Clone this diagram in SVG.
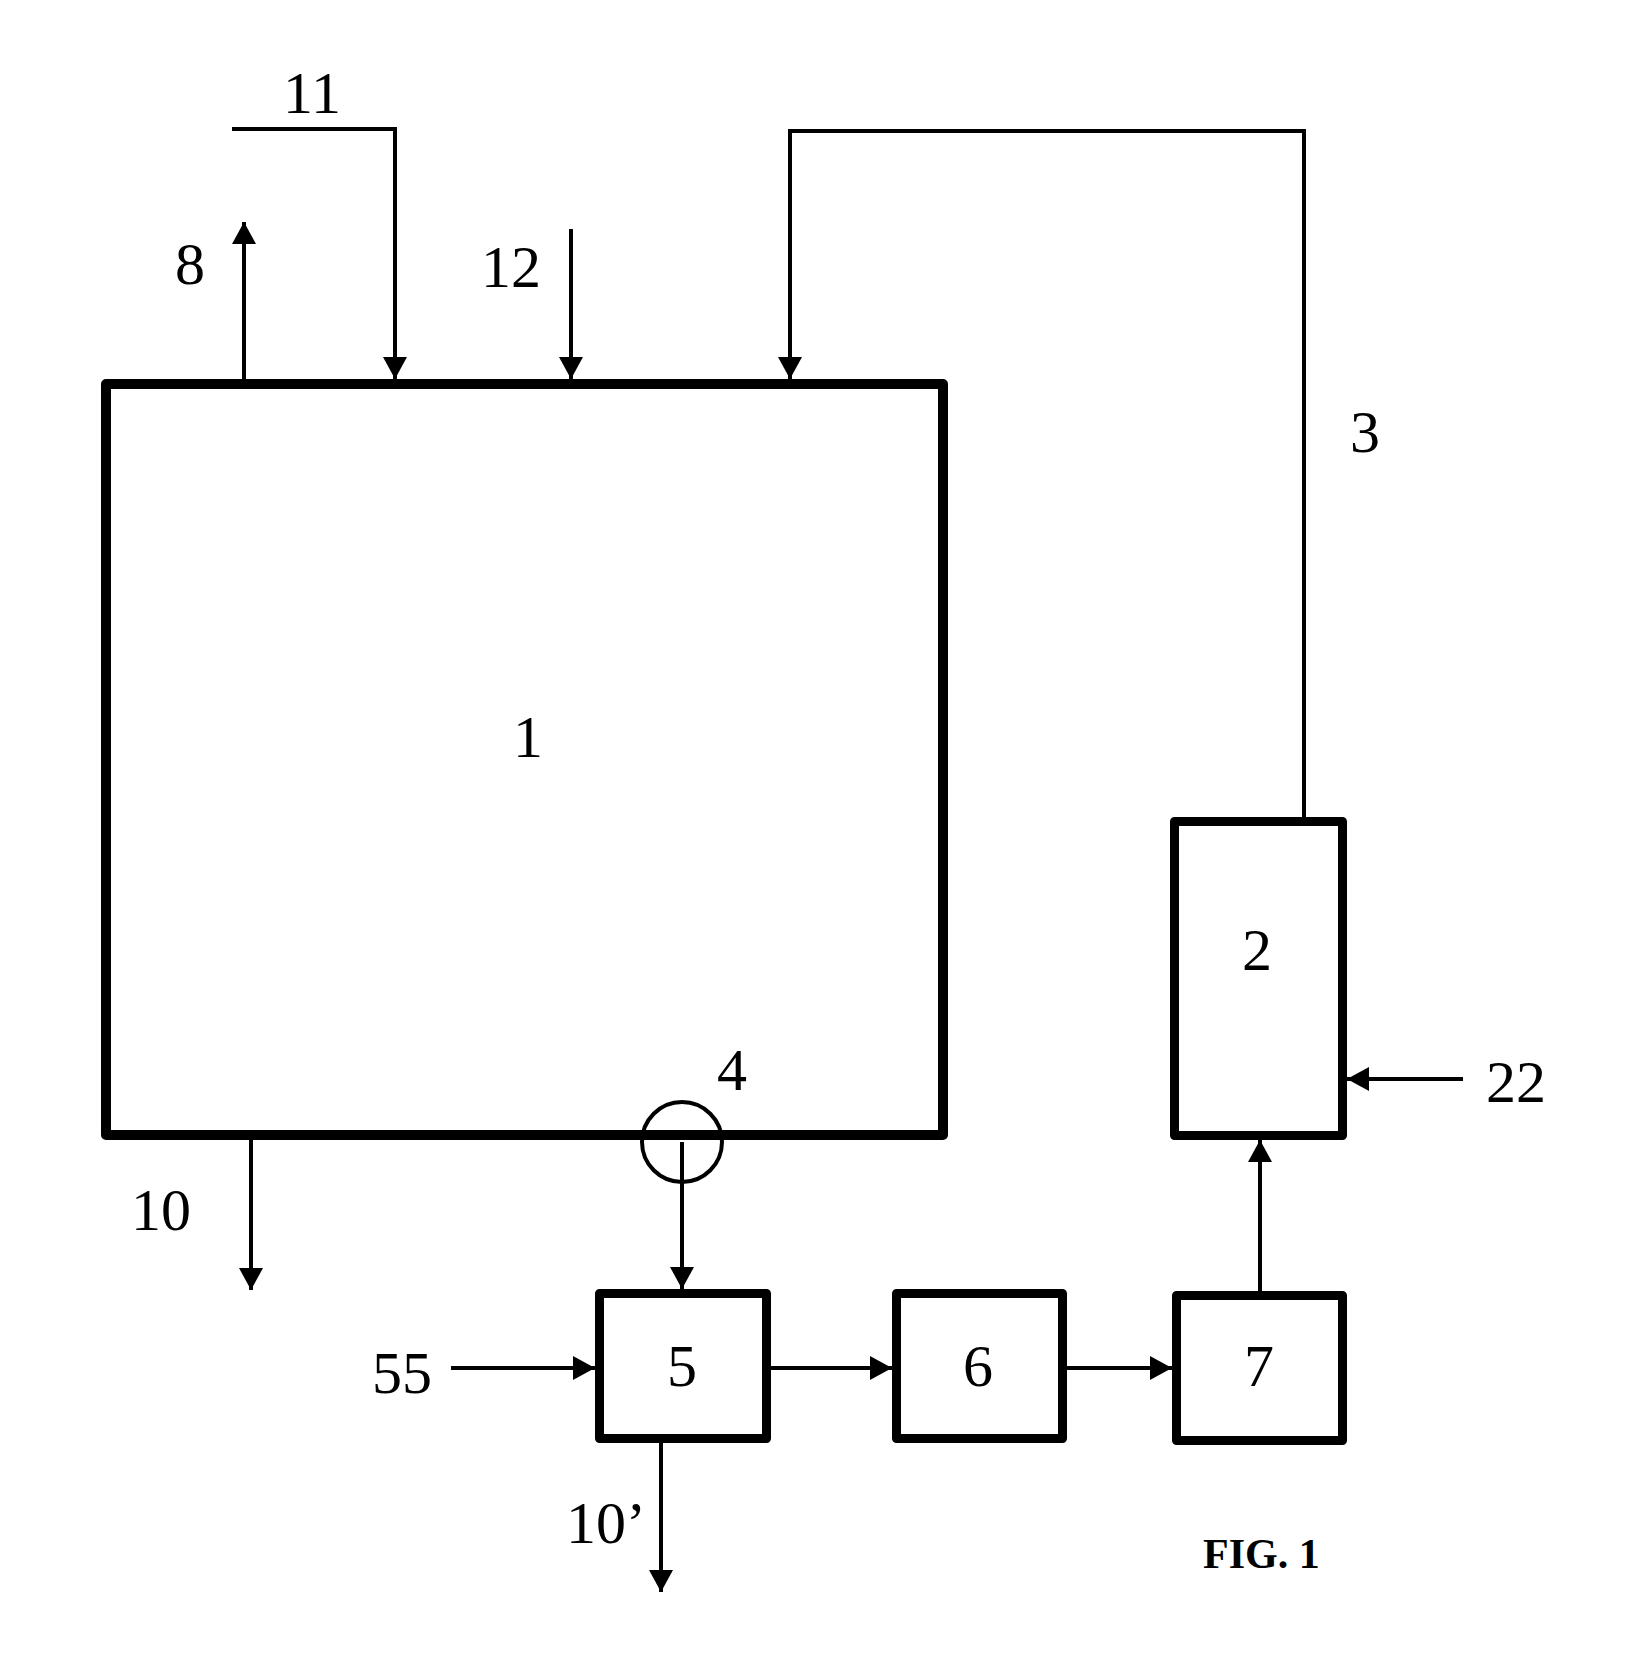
<svg xmlns="http://www.w3.org/2000/svg" width="1631" height="1671" viewBox="0 0 1631 1671">
<style>
.box{fill:#fff;stroke:#000;stroke-width:9;stroke-linejoin:round}
.big{fill:#fff;stroke:#000;stroke-width:10;stroke-linejoin:round}
.ln{fill:none;stroke:#000;stroke-width:4}
.arr{marker-end:url(#ah)}
.t{font-family:"Liberation Serif","Times New Roman",serif;font-size:60px;fill:#000}
.m{text-anchor:middle}
.fig{font-family:"Liberation Serif","Times New Roman",serif;font-size:42px;font-weight:bold;fill:#000}
</style>
<defs>
<marker id="ah" markerUnits="userSpaceOnUse" markerWidth="23" markerHeight="24" refX="22" refY="12" orient="auto" viewBox="0 0 23 24">
<path d="M0,0 L22,12 L0,24 z" fill="#000"/>
</marker>
</defs>
<rect width="1631" height="1671" fill="#fff"/>
<g id="n1"><rect class="big" x="106" y="384" width="837" height="751"/><text class="t m" x="528" y="757">1</text></g>
<g id="n2"><rect class="box" x="1174.5" y="821.5" width="168" height="314"/><text class="t m" x="1257" y="970">2</text></g>
<g id="n5"><rect class="box" x="599.5" y="1293.5" width="167" height="145"/><text class="t m" x="682" y="1386">5</text></g>
<g id="n6"><rect class="box" x="896.5" y="1293.5" width="166" height="145"/><text class="t m" x="978" y="1386">6</text></g>
<g id="n7"><rect class="box" x="1176.5" y="1295.5" width="166" height="145"/><text class="t m" x="1259" y="1386">7</text></g>
<g id="n4"><circle cx="682" cy="1142" r="40" fill="none" stroke="#000" stroke-width="4"/><text class="t m" x="732" y="1090">4</text></g>
<g id="connectors">
<line class="ln arr" x1="244" y1="379" x2="244" y2="222"/>
<polyline class="ln arr" points="232,129 395,129 395,379"/>
<line class="ln arr" x1="571" y1="229" x2="571" y2="379"/>
<polyline class="ln arr" points="1304,817 1304,131 790,131 790,379"/>
<line class="ln arr" x1="251" y1="1140" x2="251" y2="1290"/>
<line class="ln arr" x1="682" y1="1142" x2="682" y2="1289"/>
<line class="ln arr" x1="451" y1="1368" x2="595" y2="1368"/>
<line class="ln arr" x1="771" y1="1368" x2="892" y2="1368"/>
<line class="ln arr" x1="1067" y1="1368" x2="1172" y2="1368"/>
<line class="ln arr" x1="661" y1="1443" x2="661" y2="1592"/>
<line class="ln arr" x1="1260" y1="1291" x2="1260" y2="1140"/>
<line class="ln arr" x1="1463" y1="1079" x2="1347" y2="1079"/>
</g>
<g id="labels">
<text class="t m" x="312" y="113">11</text>
<text class="t m" x="190" y="284">8</text>
<text class="t m" x="511" y="287">12</text>
<text class="t m" x="1365" y="452">3</text>
<text class="t m" x="1516" y="1102">22</text>
<text class="t m" x="161" y="1230">10</text>
<text class="t m" x="402" y="1393">55</text>
<text class="t" x="566" y="1543">10’</text>
<text class="fig" x="1203" y="1568">FIG. 1</text>
</g>
</svg>
